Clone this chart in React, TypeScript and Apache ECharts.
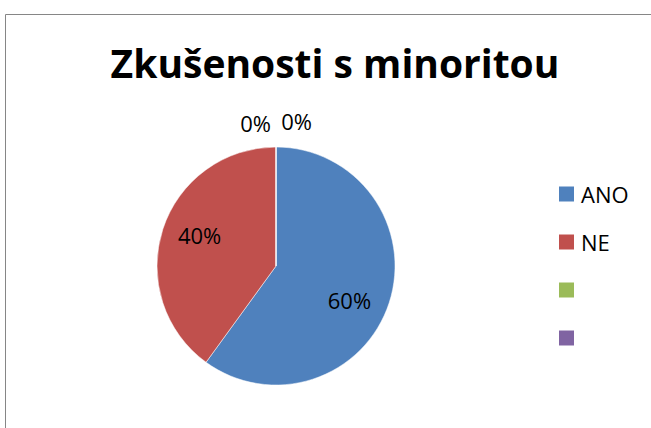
import React, { useEffect, useRef } from "react";
import * as echarts from "echarts";

const titleText = "Zkušenosti s minoritou";
const categories = ["ANO", "NE", " ", "  "];
const values = [60, 40, 0, 0];
const colors = ["#4F81BD", "#C0504D", "#9BBB59", "#8064A2"];

const FONT = "'Open Sans', 'DejaVu Sans', sans-serif";

export default function App() {
  const ref = useRef<HTMLDivElement>(null);
  useEffect(() => {
    document.body.style.margin = "0";
    const chart = echarts.init(ref.current!, null, { renderer: "svg" });
    const data = categories.map((name, i) => ({
      name,
      value: values[i],
      itemStyle: { color: colors[i] },
      label:
        values[i] > 0
          ? { position: "inside" as const }
          : { position: "outside" as const },
    }));
    chart.setOption({
      animation: false,
      backgroundColor: "#ffffff",
      title: {
        text: titleText,
        left: 330,
        top: 38,
        textAlign: "center",
        textStyle: {
          fontFamily: FONT,
          fontWeight: "bold",
          fontSize: 39,
          color: "#000",
        },
      },
      legend: {
        orient: "vertical",
        left: 559,
        top: 183,
        padding: 0,
        itemWidth: 15,
        itemHeight: 15,
        itemGap: 26,
        icon: "rect",
        itemStyle: { borderWidth: 0 },
        data: categories,
        textStyle: {
          fontFamily: FONT,
          fontSize: 22,
          color: "#000",
          padding: [0, 0, 0, 2],
        },
      },
      graphic: [
        {
          type: "rect",
          shape: { x: 5.5, y: 14.5, width: 800, height: 600 },
          style: { fill: "none", stroke: "#868686", lineWidth: 1 },
          silent: true,
        },
      ],
      series: [
        {
          type: "pie",
          center: [276, 266],
          radius: [0, 119],
          startAngle: 90,
          clockwise: true,
          avoidLabelOverlap: false,
          minShowLabelAngle: 0,
          stillShowZeroSum: true,
          itemStyle: { borderColor: "#ffffff", borderWidth: 0.5 },
          label: {
            show: true,
            formatter: "{d}%",
            fontFamily: FONT,
            fontSize: 22,
            color: "#000",
          },
          labelLine: { show: false, length: 0, length2: 0 },
          labelLayout: (params: any) => {
            const i = params.dataIndex;
            if (i === 0) return { dx: 14, dy: 15 };
            if (i === 1) return { dx: -17, dy: -12 };
            if (i === 2) return { dx: 0, dy: -24 };
            return { dx: 41, dy: -26 };
          },
          emphasis: { disabled: true },
          data,
        },
      ],
    });
    return () => chart.dispose();
  }, []);
  return <div ref={ref} style={{ width: 651, height: 428 }} />;
}
